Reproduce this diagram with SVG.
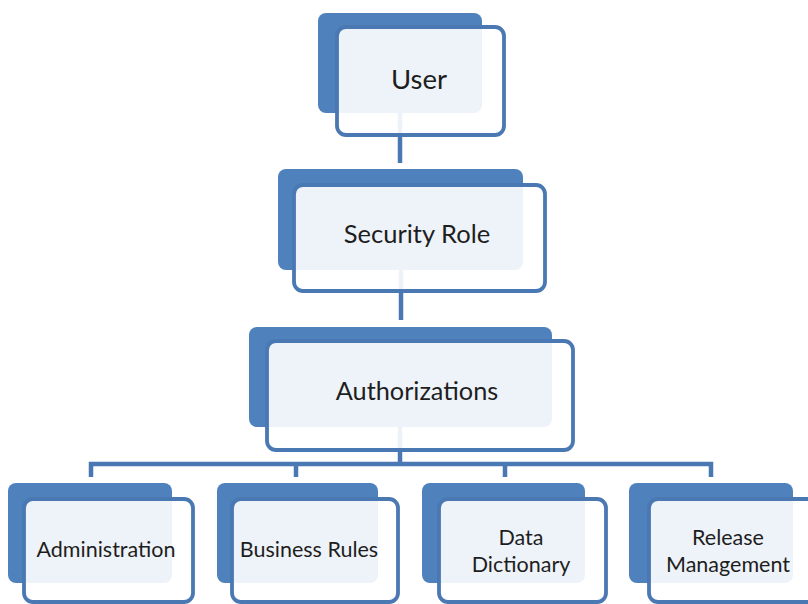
<svg xmlns="http://www.w3.org/2000/svg" width="808" height="604" viewBox="0 0 808 604">
  <style>
    .back { fill: #4f81bd; }
    .front { fill: #ffffff; fill-opacity: 0.9; stroke: #4a78b2; stroke-width: 3.8; }
    .conn { fill: none; stroke: #4a78b2; stroke-width: 4.5; stroke-linejoin: miter; stroke-linecap: butt; }
    .lbl { font-family: Lato, "Liberation Sans", sans-serif; fill: #1e1e1e; text-anchor: middle; }
  </style>
  <rect width="808" height="604" fill="#ffffff"/>
  <g id="connectors">
    <path class="conn" d="M400,113 V163"/>
    <path class="conn" d="M401,270 V320"/>
    <path class="conn" d="M400,427 V464"/>
    <path class="conn" d="M91,477 V464 H711 V477"/>
    <path class="conn" d="M296,464 V477"/>
    <path class="conn" d="M505,464 V477"/>
  </g>
  <g id="node-user">
    <rect class="back" x="318" y="13" width="164" height="100" rx="8"/>
    <rect class="front" x="337" y="27" width="167" height="108" rx="9"/>
    <text class="lbl" x="419" y="89" font-size="27.5">User</text>
  </g>
  <g id="node-security-role">
    <rect class="back" x="278" y="169" width="245" height="101" rx="8"/>
    <rect class="front" x="294" y="185" width="251" height="106" rx="9"/>
    <text class="lbl" x="417" y="243" font-size="25.5">Security Role</text>
  </g>
  <g id="node-authorizations">
    <rect class="back" x="249" y="327" width="303" height="100" rx="8"/>
    <rect class="front" x="267" y="341" width="306" height="109" rx="9"/>
    <text class="lbl" x="417" y="400" font-size="25.3">Authorizations</text>
  </g>
  <g id="node-administration">
    <rect class="back" x="8" y="483" width="164" height="100" rx="8"/>
    <rect class="front" x="24" y="499" width="169" height="103" rx="9"/>
    <text class="lbl" x="106" y="557" font-size="21.5">Administration</text>
  </g>
  <g id="node-business-rules">
    <rect class="back" x="217" y="483" width="161" height="100" rx="8"/>
    <rect class="front" x="232" y="499" width="166" height="103" rx="9"/>
    <text class="lbl" x="309" y="557" font-size="21.5">Business Rules</text>
  </g>
  <g id="node-data-dictionary">
    <rect class="back" x="422" y="483" width="163" height="100" rx="8"/>
    <rect class="front" x="439" y="499" width="167" height="103" rx="9"/>
    <text class="lbl" x="521" y="545" font-size="21.5">Data</text>
    <text class="lbl" x="521" y="572" font-size="21.5">Dictionary</text>
  </g>
  <g id="node-release-management">
    <rect class="back" x="629" y="483" width="164" height="100" rx="8"/>
    <rect class="front" x="649" y="499" width="168" height="103" rx="9"/>
    <text class="lbl" x="728" y="545" font-size="21.5">Release</text>
    <text class="lbl" x="728" y="572" font-size="21.5">Management</text>
  </g>
</svg>
